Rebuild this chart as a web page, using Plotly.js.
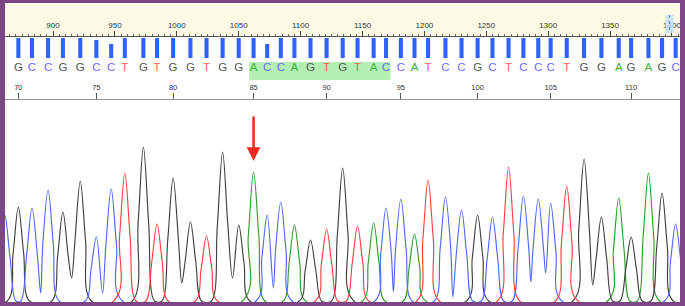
<!DOCTYPE html>
<html><head><meta charset="utf-8">
<script src="https://cdn.plot.ly/plotly-3.0.1.min.js"></script>
<style>html,body{margin:0;padding:0;background:#fff;overflow:hidden}</style>
</head><body><div id="chart" style="width:685px;height:306px"></div>
<script>
// ---- data ----
const baseNumbers = [69,70,71,72,73,74,75,76,77,78,79,80,81,82,83,84,85,86,87,88,89,90,91,92,93,94,95,96,97,98,99,100,101,102,103,104,105,106,107,108,109,110,111,112,113];
const baseCalls = ['C','G','C','C','G','G','C','C','T','G','T','G','G','T','G','G','A','C','C','A','G','T','G','T','A','C','C','A','T','C','C','G','C','T','C','C','C','T','G','G','A','G','A','G','C'];
const peakScan = [861,872,883,896,908,922,935,947,958,973,984,997,1011,1024,1037,1050,1062,1073,1084,1095,1108,1121,1134,1146,1159,1169,1181,1192,1203,1217,1230,1243,1255,1268,1280,1292,1302,1315,1329,1343,1357,1367,1381,1392,1403];
const peakHeight = [86,94,93,111,89,120,64,112,128,154,77,123,79,65,149,76,129,86,99,76,61,72,133,75,78,93,102,67,121,104,91,86,84,134,105,102,98,115,142,84,103,64,128,108,77];
const quality = [60,60,60,60,60,60,54,42,60,60,60,60,60,60,60,60,60,42,60,60,60,60,60,60,60,60,60,60,60,60,60,60,60,60,60,60,60,60,60,60,60,60,60,60,60];
// valleys between neighbouring peaks of the same dye
const troughAfterBase = [71,73,75,80,83,86,94,98,103,104,107];
const troughScan = [890,915,940,1004,1045,1078,1175,1223,1286,1298,1336];
const troughHeight = [8,23,8,18,23,13,9,4,19,28,16];
const rulerBases = [70,75,80,85,90,95,100,105,110];
const highlightBases = [85,94];
const mutationBase = 85;
const cursorScan = 1398;
const scanRange = [861.2,1406.5];

// ---- styling ----
const traceColor = {A:'#2e9e2e', C:'#5068ff', G:'#404040', T:'#ff4040'};
const letterColor = {A:'#3db33d', C:'#6b6bff', G:'#555555', T:'#ff5f5f'};
const FOOT = 9;     // peak half-width at the baseline (scan units)
const HALF = 4.3;   // peak half-width at half height (scan units)
const W = 685, H = 306;

function channel(ch){
  const xs=[scanRange[0]-30], ys=[0];
  let prev=-1;
  const add=(x,y)=>{xs.push(x); ys.push(y);};
  for(let i=0;i<baseCalls.length;i++){
    if(baseCalls[i]!==ch) continue;
    const t = troughAfterBase.indexOf(baseNumbers[i]-1);
    const h = peakHeight[i], x = peakScan[i];
    if(prev>=0 && prev===i-1 && t>=0){
      add(troughScan[t], troughHeight[t]);
      if(troughHeight[t] < h/2-6 && x-HALF-troughScan[t] > 1.5) add(x-HALF, h/2);
    } else {
      if(prev>=0){ add(peakScan[prev]+HALF, peakHeight[prev]/2); add(peakScan[prev]+FOOT, 0); }
      add(x-FOOT, 0); add(x-HALF, h/2);
    }
    add(x, h);
    // shoulder toward a following same-dye trough
    const tn = troughAfterBase.indexOf(baseNumbers[i]);
    const nextSame = (i+1<baseCalls.length && baseCalls[i+1]===ch && tn>=0);
    if(nextSame){
      if(troughHeight[tn] < h/2-6 && troughScan[tn]-(x+HALF) > 1.5) add(x+HALF, h/2);
    }
    prev=i;
  }
  add(peakScan[prev]+HALF, peakHeight[prev]/2);
  add(peakScan[prev]+FOOT, 0);
  add(scanRange[1]+30, 0);
  // remove the duplicate shoulder pushed for "prev" when it already had a same-dye neighbour handled
  return {type:'scatter', mode:'lines', x:xs, y:ys, xaxis:'x', yaxis:'y',
    line:{color:traceColor[ch], width:1.15, shape:'spline', smoothing:1}, hoverinfo:'skip', showlegend:false};
}

const vis = baseNumbers.map((b,i)=>i).filter(i=>baseNumbers[i]>=70);
const traces = ['A','G','C','T'].map(channel);

traces.push({type:'bar', x:vis.map(i=>peakScan[i]), y:vis.map(i=>quality[i]), xaxis:'x3', yaxis:'y3',
  width:3.3, marker:{color:'#2f62ff', line:{width:0}}, hoverinfo:'skip', showlegend:false});

traces.push({type:'scatter', mode:'text', x:vis.map(i=>peakScan[i]), y:vis.map(()=>68), xaxis:'x2', yaxis:'y2',
  text:vis.map(i=>baseCalls[i]), textposition:'middle center',
  textfont:{family:'Liberation Sans, Arial, sans-serif', size:11.5, color:vis.map(i=>letterColor[baseCalls[i]])},
  hoverinfo:'skip', showlegend:false, cliponaxis:false});

const iHs = baseNumbers.indexOf(highlightBases[0]), iHe = baseNumbers.indexOf(highlightBases[1]);
const iMut = baseNumbers.indexOf(mutationBase);
const dom = [5/W, 680/W];
const pyFrac = p => (H-p)/H;

const shapes = [
  {type:'rect', xref:'paper', yref:'y2', x0:0, x1:1, y0:3, y1:36, fillcolor:'#fdfae6', line:{width:0}, layer:'below'},
  {type:'rect', xref:'x', yref:'y2', x0:peakScan[iHs]-3.6, x1:peakScan[iHe]+3.6, y0:62, y1:80, fillcolor:'#b3efb3', line:{width:0}, layer:'below'},
  {type:'rect', xref:'x', yref:'y2', x0:cursorScan-3.3, x1:cursorScan+3.3, y0:15, y1:33, fillcolor:'rgba(200,225,245,0.85)', line:{width:0}, layer:'above'},
  {type:'line', xref:'x', yref:'y2', x0:cursorScan, x1:cursorScan, y0:15, y1:33, line:{color:'#4a8ee0', width:1.2, dash:'dot'}, layer:'above'},
  // purple frame
  {type:'rect', xref:'paper', yref:'paper', x0:0, x1:5/W, y0:0, y1:1, fillcolor:'#7b4683', line:{width:0}, layer:'above'},
  {type:'rect', xref:'paper', yref:'paper', x0:680/W, x1:1, y0:0, y1:1, fillcolor:'#7b4683', line:{width:0}, layer:'above'},
  {type:'rect', xref:'paper', yref:'paper', x0:0, x1:1, y0:pyFrac(3), y1:1, fillcolor:'#7b4683', line:{width:0}, layer:'above'},
  {type:'rect', xref:'paper', yref:'paper', x0:0, x1:1, y0:0, y1:pyFrac(302), fillcolor:'#7b4683', line:{width:0}, layer:'above'}
];

const tickFont = {family:'Liberation Sans, Arial, sans-serif', size:8, color:'#333'};
const layout = {
  width:W, height:H, margin:{l:0,r:0,t:0,b:0,pad:0},
  paper_bgcolor:'#ffffff', plot_bgcolor:'rgba(0,0,0,0)', showlegend:false, hovermode:false,
  xaxis:{domain:dom, range:scanRange, visible:false, anchor:'y'},
  yaxis:{domain:[pyFrac(302), pyFrac(100)], range:[-1,201], visible:false, anchor:'x'},
  xaxis2:{domain:dom, range:scanRange, overlaying:'x', anchor:'free', position:pyFrac(36), side:'top',
    tickmode:'linear', tick0:0, dtick:50, ticks:'outside', ticklen:5, tickwidth:1, tickcolor:'#444',
    showline:true, linecolor:'#555', linewidth:1, showgrid:false, zeroline:false, tickfont:tickFont,
    minor:{tick0:0, dtick:5, ticks:'outside', ticklen:2.5, tickwidth:1, tickcolor:'#666', showgrid:false}},
  yaxis2:{domain:[0,1], range:[H,0], visible:false, anchor:'x2'},
  xaxis3:{domain:dom, range:scanRange, overlaying:'x', anchor:'free', position:pyFrac(99), side:'top',
    tickmode:'array', tickvals:rulerBases.map(b=>peakScan[baseNumbers.indexOf(b)]), ticktext:rulerBases.map(String),
    ticks:'outside', ticklen:6, tickwidth:1, tickcolor:'#555', showline:true, linecolor:'#999', linewidth:1,
    showgrid:false, zeroline:false, tickfont:{family:'Liberation Sans, Arial, sans-serif', size:7.5, color:'#333'}},
  yaxis3:{domain:[pyFrac(58), pyFrac(38)], range:[0,60], visible:false, anchor:'x3'},
  shapes:shapes,
  annotations:[{xref:'x', yref:'y', x:peakScan[iMut], y:peakHeight[iMut]+11, text:'', showarrow:true,
    ax:0, ay:-46, arrowcolor:'#ee2b22', arrowwidth:2.5, arrowhead:2, arrowsize:1.1, standoff:0}]
};
Plotly.newPlot('chart', traces, layout, {staticPlot:true, displayModeBar:false});
</script></body></html>
